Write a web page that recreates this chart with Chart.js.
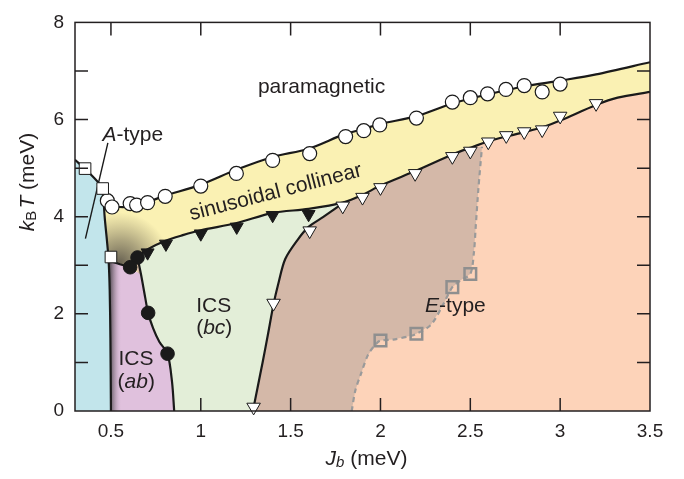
<!DOCTYPE html>
<html>
<head>
<meta charset="utf-8">
<script src="https://cdn.jsdelivr.net/npm/chart.js@4.4.1/dist/chart.umd.min.js"></script>
<style>
  html, body { margin: 0; padding: 0; background: #fff; }
  #wrap { width: 684px; height: 479px; }
</style>
</head>
<body>
<div id="wrap"><canvas id="phase" width="684" height="479"></canvas></div>
<script>
// axis ticks (meV)
const xTicks = [0.5, 1, 1.5, 2, 2.5, 3, 3.5];
const yTicks = [0, 1, 2, 3, 4, 5, 6, 7, 8];

// phase boundaries, Jb (meV) vs kB T (meV)
const paraX = [0.3, 0.36, 0.44, 0.456, 0.48, 0.5, 0.55, 0.6, 0.7, 0.8, 1.0, 1.2, 1.4, 1.6, 1.8, 1.9, 2.0, 2.2, 2.4, 2.6, 2.8, 3.0, 3.2, 3.5];
const paraY = [5.17, 4.97, 4.66, 4.54, 4.33, 4.24, 4.2, 4.21, 4.3, 4.43, 4.66, 4.97, 5.23, 5.4, 5.7, 5.8, 5.91, 6.07, 6.33, 6.52, 6.68, 6.8, 6.93, 7.18];

const sinX = [0.648, 0.7, 0.8, 0.9, 1.0, 1.2, 1.4, 1.6, 1.8, 1.9, 2.0, 2.2, 2.4, 2.5, 2.6, 2.7, 2.8, 2.9, 3.0, 3.2, 3.32, 3.5];
const sinY = [3.16, 3.32, 3.5, 3.62, 3.72, 3.87, 4.08, 4.16, 4.3, 4.45, 4.64, 4.95, 5.28, 5.42, 5.55, 5.65, 5.74, 5.84, 5.98, 6.3, 6.45, 6.57];

const bcX = [1.29, 1.317, 1.344, 1.375, 1.405, 1.43, 1.47, 1.54, 1.6, 1.68, 1.8];
const bcY = [0, 0.5, 1.0, 1.6, 2.2, 2.6, 3.13, 3.53, 3.79, 3.99, 4.3];

const aEdgeX = [0.456, 0.465, 0.478, 0.487, 0.493, 0.497, 0.5];
const aEdgeY = [4.54, 4.0, 3.5, 3.1, 2.5, 1.5, 0];

const abTopX = [0.487, 0.55, 0.607];
const abTopY = [3.1, 3.02, 2.96];

const abX = [0.648, 0.668, 0.69, 0.707, 0.735, 0.77, 0.815, 0.84, 0.852];
const abY = [3.16, 2.8, 2.35, 2.02, 1.7, 1.42, 1.18, 0.6, 0];

const eTypeX = [1.84, 1.86, 1.89, 1.93, 1.97, 2.0, 2.07, 2.17, 2.2, 2.28, 2.35, 2.4, 2.45, 2.5, 2.52, 2.53, 2.545, 2.565];
const eTypeY = [0, 0.42, 0.75, 1.15, 1.36, 1.45, 1.47, 1.55, 1.59, 1.77, 2.2, 2.55, 2.7, 2.82, 3.26, 3.79, 4.58, 5.44];

const leaderX = [0.483, 0.358];
const leaderY = [5.52, 3.55];

// measured transition points
const openCircX = [0.48, 0.506, 0.607, 0.643, 0.704, 0.802, 1.0, 1.198, 1.4, 1.606, 1.806, 1.907, 1.996, 2.2, 2.4, 2.5, 2.596, 2.698, 2.8, 2.9, 3.0];
const openCircY = [4.33, 4.2, 4.27, 4.24, 4.29, 4.42, 4.63, 4.89, 5.16, 5.3, 5.65, 5.77, 5.89, 6.03, 6.36, 6.45, 6.53, 6.62, 6.7, 6.57, 6.73];

const dotX = [0.648, 0.607, 0.707, 0.815];
const dotY = [3.16, 2.96, 2.02, 1.18];

const blackTriX = [0.704, 0.806, 1.0, 1.2, 1.4, 1.6];
const blackTriY = [3.26, 3.44, 3.65, 3.79, 4.03, 4.05];

const whiteTriX = [1.294, 1.405, 1.606, 1.79, 1.9, 2.0, 2.193, 2.4, 2.5, 2.6, 2.7, 2.8, 2.9, 3.0, 3.2];
const whiteTriY = [0.08, 2.22, 3.71, 4.22, 4.4, 4.6, 4.89, 5.24, 5.35, 5.54, 5.67, 5.75, 5.79, 6.07, 6.33];

const whiteSqX = [0.356, 0.454, 0.5];
const whiteSqY = [4.99, 4.58, 3.17];

const graySqX = [2.0, 2.2, 2.4, 2.5];
const graySqY = [1.45, 1.59, 2.55, 2.82];

const FONT = '"Liberation Sans", Arial, Helvetica, sans-serif';
const INK = '#231f20';

const pts = (xs, ys) => xs.map((x, i) => ({ x, y: ys[i] }));

const para = pts(paraX, paraY);
const sin = pts(sinX, sinY);
const bc = pts(bcX, bcY);
const aEdge = pts(aEdgeX, aEdgeY);
const abTop = pts(abTopX, abTopY);
const ab = pts(abX, abY);
const eType = pts(eTypeX, eTypeY);

// filled regions, painted back to front
const yellowArea = [...para, { x: 3.5, y: 0 }, { x: 0.3, y: 0 }];
const peachArea = [...sin, { x: 3.5, y: 0 }, { x: sinX[0], y: 0 }];
const brownArea = [...eType, ...sin.filter(p => p.x < eTypeX[eTypeX.length - 1]).reverse(), { x: sinX[0], y: 0 }];
const greenArea = [...bc, ...sin.filter(p => p.x < bcX[bcX.length - 1]).reverse(), ...ab.slice(1)];
const pinkArea = [...abTop, ...ab.filter(p => p.y < abTopY[abTopY.length - 1]), ...aEdge.filter(p => p.y < abTopY[0]).reverse()];
const blueArea = [{ x: 0.3, y: 0 }, ...para.filter(p => p.x <= aEdgeX[0]), ...aEdge.slice(1)];
const cornerArea = [
  ...aEdge.filter(p => p.y >= abTopY[0]),
  ...abTop.slice(1),
  ...sin.filter(p => p.x <= 0.9),
  ...para.filter(p => p.x > aEdgeX[0] && p.x <= 0.9).reverse()
];

function area(data, color, order) {
  return {
    data, order, showLine: true, fill: 'shape', tension: 0,
    backgroundColor: color, borderColor: 'rgba(0,0,0,0)', borderWidth: 0, pointRadius: 0
  };
}

function boundary(data, order, extra) {
  return Object.assign({
    data, order, showLine: true, fill: false, tension: 0.3,
    borderColor: '#1a1a1a', borderWidth: 2.2, pointRadius: 0
  }, extra || {});
}

function marker(data, style, bg, stroke, radius, width, extra) {
  return Object.assign({
    data, order: 3, showLine: false, clip: false,
    pointStyle: style, pointRadius: radius, pointBackgroundColor: bg,
    pointBorderColor: stroke, pointBorderWidth: width
  }, extra || {});
}

// dark haze where the yellow phase meets the A-type and ICS(ab) phases
function cornerShade(ctx) {
  const chart = ctx.chart;
  if (!chart.chartArea) return 'rgba(0,0,0,0)';
  const cx = chart.scales.x.getPixelForValue(0.55);
  const cy = chart.scales.y.getPixelForValue(3.06);
  const g = chart.ctx.createRadialGradient(cx, cy, 0, cx, cy, 50);
  g.addColorStop(0, 'rgba(92,86,74,0.92)');
  g.addColorStop(0.45, 'rgba(110,102,84,0.55)');
  g.addColorStop(1, 'rgba(130,120,90,0)');
  return g;
}

function pinkShade(ctx) {
  const chart = ctx.chart;
  if (!chart.chartArea) return 'rgba(0,0,0,0)';
  const x0 = chart.scales.x.getPixelForValue(0.495);
  const x1 = chart.scales.x.getPixelForValue(0.56);
  const g = chart.ctx.createLinearGradient(x0, 0, x1, 0);
  g.addColorStop(0, 'rgba(70,66,70,0.85)');
  g.addColorStop(0.5, 'rgba(120,105,118,0.35)');
  g.addColorStop(1, 'rgba(224,193,221,0)');
  return g;
}

function drawRuns(c, runs, x, y, size) {
  let total = 0;
  const widths = runs.map(r => {
    c.font = (r[1] ? 'italic ' : '') + (r[2] || size) + 'px ' + FONT;
    const w = c.measureText(r[0]).width;
    total += w;
    return w;
  });
  let cx = x - total / 2;
  runs.forEach((r, i) => {
    c.font = (r[1] ? 'italic ' : '') + (r[2] || size) + 'px ' + FONT;
    c.fillText(r[0], cx, y + (r[3] || 0));
    cx += widths[i];
  });
}

const regionLabels = [
  { x: 1.672, y: 6.67, runs: [['paramagnetic', 0]] },
  { x: 0.622, y: 5.67, runs: [['A', 1], ['-type', 0]] },
  { x: 1.417, y: 4.5, rot: -14.5, runs: [['sinusoidal collinear', 0]] },
  { x: 1.072, y: 2.16, runs: [['ICS', 0]] },
  { x: 1.075, y: 1.7, runs: [['(', 0], ['bc', 1], [')', 0]] },
  { x: 0.639, y: 1.06, runs: [['ICS', 0]] },
  { x: 0.641, y: 0.6, runs: [['(', 0], ['ab', 1], [')', 0]] },
  { x: 2.417, y: 2.16, runs: [['E', 1], ['-type', 0]] }
];

const decor = {
  id: 'decor',
  afterDatasetsDraw(chart) {
    const c = chart.ctx;
    const xs = chart.scales.x, ys = chart.scales.y;
    c.save();
    c.fillStyle = INK;
    c.textBaseline = 'middle';
    regionLabels.forEach(l => {
      c.save();
      c.translate(xs.getPixelForValue(l.x), ys.getPixelForValue(l.y));
      if (l.rot) c.rotate(l.rot * Math.PI / 180);
      drawRuns(c, l.runs, 0, 0, 21);
      c.restore();
    });
    c.restore();
  },
  afterDraw(chart) {
    const c = chart.ctx;
    const a = chart.chartArea;
    const xs = chart.scales.x, ys = chart.scales.y;
    const tick = 13;
    c.save();
    c.strokeStyle = INK;
    c.lineWidth = 1.5;
    c.beginPath();
    xs.ticks.forEach(t => {
      const px = xs.getPixelForValue(t.value);
      if (px > a.right - 1) return;
      c.moveTo(px, a.bottom); c.lineTo(px, a.bottom - tick);
      c.moveTo(px, a.top); c.lineTo(px, a.top + tick);
    });
    ys.ticks.forEach(t => {
      const py = ys.getPixelForValue(t.value);
      if (py < a.top + 1 || py > a.bottom - 1) return;
      c.moveTo(a.left, py); c.lineTo(a.left + tick, py);
      c.moveTo(a.right, py); c.lineTo(a.right - tick, py);
    });
    c.stroke();
    c.strokeRect(a.left, a.top, a.right - a.left, a.bottom - a.top);

    // axis titles
    c.fillStyle = INK;
    c.textBaseline = 'middle';
    drawRuns(c, [['J', 1], ['b', 1, 15, 4], [' (meV)', 0]], (a.left + a.right) / 2 + 4, 459, 21);
    c.translate(28, 182);
    c.rotate(-Math.PI / 2);
    drawRuns(c, [['k', 1], ['B', 0, 15, 4], [' ', 0, 8], ['T', 1], [' (meV)', 0]], 0, 0, 21);
    c.restore();
  }
};

new Chart(document.getElementById('phase'), {
  type: 'scatter',
  data: {
    datasets: [
      area(yellowArea, '#faf1b3', 30),
      area(peachArea, '#fdd3b9', 29),
      area(brownArea, '#d4b8a8', 28),
      area(greenArea, '#e3eed8', 27),
      area(pinkArea, '#e0c1dd', 26),
      area(pinkArea, pinkShade, 25),
      area(blueArea, '#c2e5eb', 24),
      area(cornerArea, cornerShade, 23),
      boundary(eType, 20, { borderColor: '#9a9a9a', borderWidth: 2.2, borderDash: [5, 4] }),
      boundary(para, 15),
      boundary(sin, 15),
      boundary(bc, 15),
      boundary(aEdge, 15),
      boundary(abTop, 15, { tension: 0 }),
      boundary(ab, 15),
      boundary(pts(leaderX, leaderY), 15, { borderWidth: 1.4, tension: 0 }),
      marker(pts(graySqX, graySqY), 'rect', 'rgba(0,0,0,0)', '#8f8f8f', 8.2, 2.5, { order: 5 }),
      marker(pts(openCircX, openCircY), 'circle', '#ffffff', '#1a1a1a', 7, 1.2, { order: 4 }),
      marker(pts(blackTriX, blackTriY), 'triangle', '#1a1a1a', '#1a1a1a', 7.5, 1, { pointRotation: 180 }),
      marker(pts(whiteTriX, whiteTriY), 'triangle', '#ffffff', '#1a1a1a', 7.8, 1, { pointRotation: 180 }),
      marker(pts(dotX, dotY), 'circle', '#1a1a1a', '#1a1a1a', 6.8, 1),
      marker(pts(whiteSqX, whiteSqY), 'rect', '#ffffff', '#1a1a1a', 8.2, 1, { order: 2 })
    ]
  },
  options: {
    responsive: false,
    devicePixelRatio: 1,
    animation: false,
    events: [],
    layout: { padding: { left: 0, top: 8, right: 34, bottom: 0 } },
    plugins: { legend: { display: false }, tooltip: { enabled: false } },
    scales: {
      x: {
        type: 'linear', min: 0.3, max: 3.5,
        afterBuildTicks: s => { s.ticks = xTicks.map(v => ({ value: v })); },
        afterFit: s => { s.height = 68; },
        grid: { display: false, drawTicks: false },
        border: { display: false },
        ticks: { padding: 9, color: INK, font: { family: FONT, size: 19 }, callback: v => String(v) }
      },
      y: {
        type: 'linear', min: 0, max: 8,
        afterBuildTicks: s => { s.ticks = yTicks.map(v => ({ value: v })); },
        afterFit: s => { s.width = 75; },
        grid: { display: false, drawTicks: false },
        border: { display: false },
        ticks: { padding: 11, color: INK, font: { family: FONT, size: 19 }, callback: v => (v % 2 === 0 ? String(v) : '') }
      }
    }
  },
  plugins: [decor]
});
</script>
</body>
</html>
